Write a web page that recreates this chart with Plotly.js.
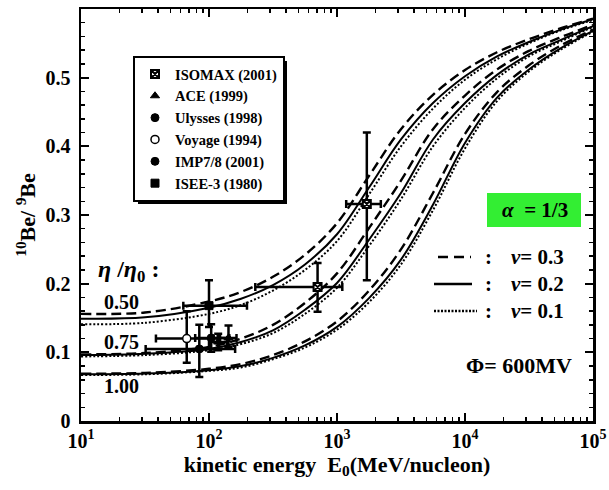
<!DOCTYPE html>
<html>
<head>
<meta charset="utf-8">
<script src="https://cdn.plot.ly/plotly-3.0.1.min.js"></script>
<style>html,body{margin:0;padding:0;background:#fff;}#chart{width:609px;height:490px;}</style>
</head>
<body>
<div id="chart"></div>
<script>
// ---- model curves: energy grid (MeV/nucleon) ----
var energy = [10, 31.6, 100, 178, 316, 562, 1000, 1780, 3160, 5620, 10000, 17800, 31600, 56200, 100000];
// eta/eta0 = 0.50
var eta050_nu03 = [0.156, 0.158, 0.174, 0.188, 0.210, 0.242, 0.288, 0.357, 0.425, 0.475, 0.511, 0.537, 0.556, 0.572, 0.586];
var eta050_nu02 = [0.149, 0.151, 0.165, 0.178, 0.198, 0.228, 0.272, 0.340, 0.410, 0.463, 0.502, 0.531, 0.552, 0.570, 0.585];
var eta050_nu01 = [0.141, 0.143, 0.156, 0.169, 0.190, 0.220, 0.262, 0.330, 0.400, 0.455, 0.497, 0.527, 0.550, 0.569, 0.584];
// eta/eta0 = 0.75
var eta075_nu03 = [0.097, 0.099, 0.108, 0.120, 0.140, 0.172, 0.215, 0.281, 0.350, 0.425, 0.474, 0.512, 0.539, 0.559, 0.577];
var eta075_nu02 = [0.096, 0.098, 0.105, 0.115, 0.132, 0.162, 0.201, 0.264, 0.332, 0.410, 0.463, 0.504, 0.534, 0.555, 0.575];
var eta075_nu01 = [0.094, 0.096, 0.103, 0.112, 0.128, 0.156, 0.194, 0.255, 0.323, 0.400, 0.456, 0.499, 0.531, 0.553, 0.574];
// eta/eta0 = 1.00
var eta100_nu03 = [0.069, 0.070, 0.076, 0.083, 0.096, 0.116, 0.145, 0.190, 0.250, 0.332, 0.418, 0.479, 0.518, 0.547, 0.570];
var eta100_nu02 = [0.068, 0.069, 0.074, 0.080, 0.092, 0.110, 0.137, 0.179, 0.235, 0.315, 0.405, 0.471, 0.512, 0.543, 0.568];
var eta100_nu01 = [0.067, 0.068, 0.073, 0.078, 0.090, 0.107, 0.133, 0.173, 0.228, 0.307, 0.397, 0.466, 0.509, 0.541, 0.567];

// ---- measurements ----
var isomaxE = [705, 1710], isomaxR = [0.195, 0.316];
var isomaxRup = [0.035, 0.104], isomaxRdn = [0.036, 0.111];
var isomaxEup = [395, 490], isomaxEdn = [475, 530];

var aceE = [118, 142], aceR = [0.115, 0.121];
var aceRup = [0.012, 0.018], aceRdn = [0.012, 0.013];
var aceEup = [20, 22], aceEdn = [18, 20];

var ulyssesE = [104], ulyssesR = [0.121];
var ulyssesRup = [0.020], ulyssesRdn = [0.020];
var ulyssesEup = [40], ulyssesEdn = [26];

var voyageE = [67], voyageR = [0.120];
var voyageRup = [0.040], voyageRdn = [0.035];
var voyageEup = [50], voyageEdn = [28.5];

var impE = [84], impR = [0.105];
var impRup = [0.035], impRdn = [0.041];
var impEup = [76], impEdn = [52];

var iseeE = [100], iseeR = [0.168];
var iseeRup = [0.037], iseeRdn = [0.031];
var iseeEup = [98], iseeEdn = [37];

// ---- axis ticks ----
var xTickVals = [10, 100, 1000, 10000, 100000];
var xTickText = ['10<sup>1</sup>', '10<sup>2</sup>', '10<sup>3</sup>', '10<sup>4</sup>', '10<sup>5</sup>'];
var yTickVals = [0, 0.1, 0.2, 0.3, 0.4, 0.5, 0.6];
var yTickText = ['0', '0.1', '0.2', '0.3', '0.4', '0.5', '0.6'];

var minorX = [];
for (var d = 1; d < 5; d++) { for (var k = 2; k <= 9; k++) { minorX.push(k * Math.pow(10, d)); } }

var SERIF = 'Liberation Serif, Times New Roman, serif';

function curve(y, dash, width) {
  return {x: energy, y: y, mode: 'lines', type: 'scatter', showlegend: false, hoverinfo: 'skip',
          line: {color: '#000', width: width, dash: dash, shape: 'spline', smoothing: 1}};
}
var data = [
  curve(eta050_nu03, '10px,5px', 2.4), curve(eta050_nu02, 'solid', 2), curve(eta050_nu01, '2px,2px', 2),
  curve(eta075_nu03, '10px,5px', 2.4), curve(eta075_nu02, 'solid', 2), curve(eta075_nu01, '2px,2px', 2),
  curve(eta100_nu03, '10px,5px', 2.4), curve(eta100_nu02, 'solid', 2), curve(eta100_nu01, '2px,2px', 2)
];

function meas(name, x, y, yu, yd, xu, xd, symbol, size, fill, lw) {
  return {name: name, x: x, y: y, mode: 'markers', type: 'scatter',
    marker: {symbol: symbol, size: size, color: fill, line: {color: '#000', width: lw}},
    error_y: {type: 'data', symmetric: false, array: yu, arrayminus: yd, color: '#000', thickness: 2.5, width: 4},
    error_x: {type: 'data', symmetric: false, array: xu, arrayminus: xd, color: '#000', thickness: 2.5, width: 4}};
}
data.push(meas('ISOMAX (2001)', isomaxE, isomaxR, isomaxRup, isomaxRdn, isomaxEup, isomaxEdn, 'square-x', 8, '#fff', 2));
data.push(meas('ACE (1999)', aceE, aceR, aceRup, aceRdn, aceEup, aceEdn, 'triangle-up', 8, '#000', 1));
data.push(meas('Ulysses (1998)', ulyssesE, ulyssesR, ulyssesRup, ulyssesRdn, ulyssesEup, ulyssesEdn, 'circle', 8, '#000', 1));
data.push(meas('Voyage (1994)', voyageE, voyageR, voyageRup, voyageRdn, voyageEup, voyageEdn, 'circle', 8, '#fff', 1.5));
data.push(meas('IMP7/8 (2001)', impE, impR, impRup, impRdn, impEup, impEdn, 'circle', 8, '#000', 1));
data.push(meas('ISEE-3 (1980)', iseeE, iseeR, iseeRup, iseeRdn, iseeEup, iseeEdn, 'square', 8, '#000', 1));

function f(size) { return {family: SERIF, color: '#000', weight: 'bold', size: size}; }

function px(x) { return (x - 81) / 512; }
function py(y) { return (421 - y) / 412; }

function ann(x, y, text, size, xa) {
  return {xref: 'paper', yref: 'paper', x: px(x), y: py(y), xanchor: xa || 'center', yanchor: 'middle',
          showarrow: false, text: text, font: f(size)};
}
var annotations = [
  ann(96, 271, '<i>η</i> /<i>η</i><sub>0</sub> :', 24, 'left'),
  ann(121, 302, '0.50', 20),
  ann(121, 342, '0.75', 20),
  ann(121, 386, '1.00', 20),
  ann(535, 210, '<i>α</i>  = 1/3', 21),
  ann(488, 257, ':', 21),
  ann(488, 284, ':', 21),
  ann(488, 311, ':', 21),
  ann(509, 257, '<i>ν</i>= 0.3', 21, 'left'),
  ann(509, 284, '<i>ν</i>= 0.2', 21, 'left'),
  ann(509, 311, '<i>ν</i>= 0.1', 21, 'left'),
  ann(574, 365, 'Φ= 600MV', 22, 'right')
];

var shapes = [
  {type: 'rect', xref: 'paper', yref: 'paper', x0: px(487), x1: px(581), y0: py(227), y1: py(193),
   fillcolor: '#33ee33', line: {width: 0}, layer: 'below'},
  {type: 'line', xref: 'paper', yref: 'paper', x0: px(438), x1: px(471), y0: py(257), y1: py(257), line: {color: '#000', width: 2.5, dash: '10px,6px'}},
  {type: 'line', xref: 'paper', yref: 'paper', x0: px(434), x1: px(472), y0: py(284), y1: py(284), line: {color: '#000', width: 2.5}},
  {type: 'line', xref: 'paper', yref: 'paper', x0: px(434), x1: px(477), y0: py(311), y1: py(311), line: {color: '#000', width: 2.5, dash: '2px,1.5px'}}
];

var layout = {
  width: 609, height: 490,
  margin: {l: 81, r: 16, t: 9, b: 69, pad: 0},
  paper_bgcolor: '#fff', plot_bgcolor: '#fff',
  showlegend: true,
  legend: {x: px(133), y: py(56), xanchor: 'left', yanchor: 'top', bgcolor: '#fff', bordercolor: '#000', borderwidth: 2,
           font: f(14.5), tracegroupgap: 0, itemclick: false},
  xaxis: {type: 'log', range: [1, 5], tickmode: 'array', tickvals: xTickVals, ticktext: xTickText,
          ticks: 'inside', ticklen: 8, tickwidth: 2, tickcolor: '#000', showline: true, linewidth: 2.5, linecolor: '#000',
          mirror: 'allticks', showgrid: false, zeroline: false, tickfont: f(20),
          minor: {tickmode: 'array', tickvals: minorX, ticks: 'inside', ticklen: 4, tickwidth: 1.5, tickcolor: '#000', showgrid: false},
          title: {text: 'kinetic energy  E<sub>0</sub>(MeV/nucleon)', font: f(22), standoff: 6}},
  yaxis: {range: [0, 0.6], tickmode: 'array', tickvals: yTickVals, ticktext: yTickText,
          ticks: 'inside', ticklen: 8, tickwidth: 2, tickcolor: '#000', showline: true, linewidth: 2.5, linecolor: '#000',
          mirror: 'allticks', showgrid: false, zeroline: false, tickfont: f(20), ticklabelstandoff: 4,
          minor: {dtick: 0.02, ticks: 'inside', ticklen: 4, tickwidth: 1.5, tickcolor: '#000', showgrid: false},
          title: {text: '<sup>10</sup>Be/ <sup>9</sup>Be', font: f(22), standoff: 4}},
  annotations: annotations,
  shapes: shapes
};

var gd = document.getElementById('chart');
Plotly.newPlot(gd, data, layout, {staticPlot: true}).then(function () {
  var bg = gd.querySelector('.legend .bg');
  if (!bg) return;
  var r = bg.getBoundingClientRect();
  var g = gd.getBoundingClientRect();
  var L = r.left - g.left, T = r.top - g.top, R = r.right - g.left, B = r.bottom - g.top;
  var sh = {type: 'rect', xref: 'paper', yref: 'paper', x0: px(L + 4), x1: px(R + 3), y0: py(B + 3), y1: py(T + 4),
            fillcolor: '#000', line: {width: 0}, layer: 'above'};
  Plotly.relayout(gd, {shapes: shapes.concat([sh])});
});
</script>
</body>
</html>
